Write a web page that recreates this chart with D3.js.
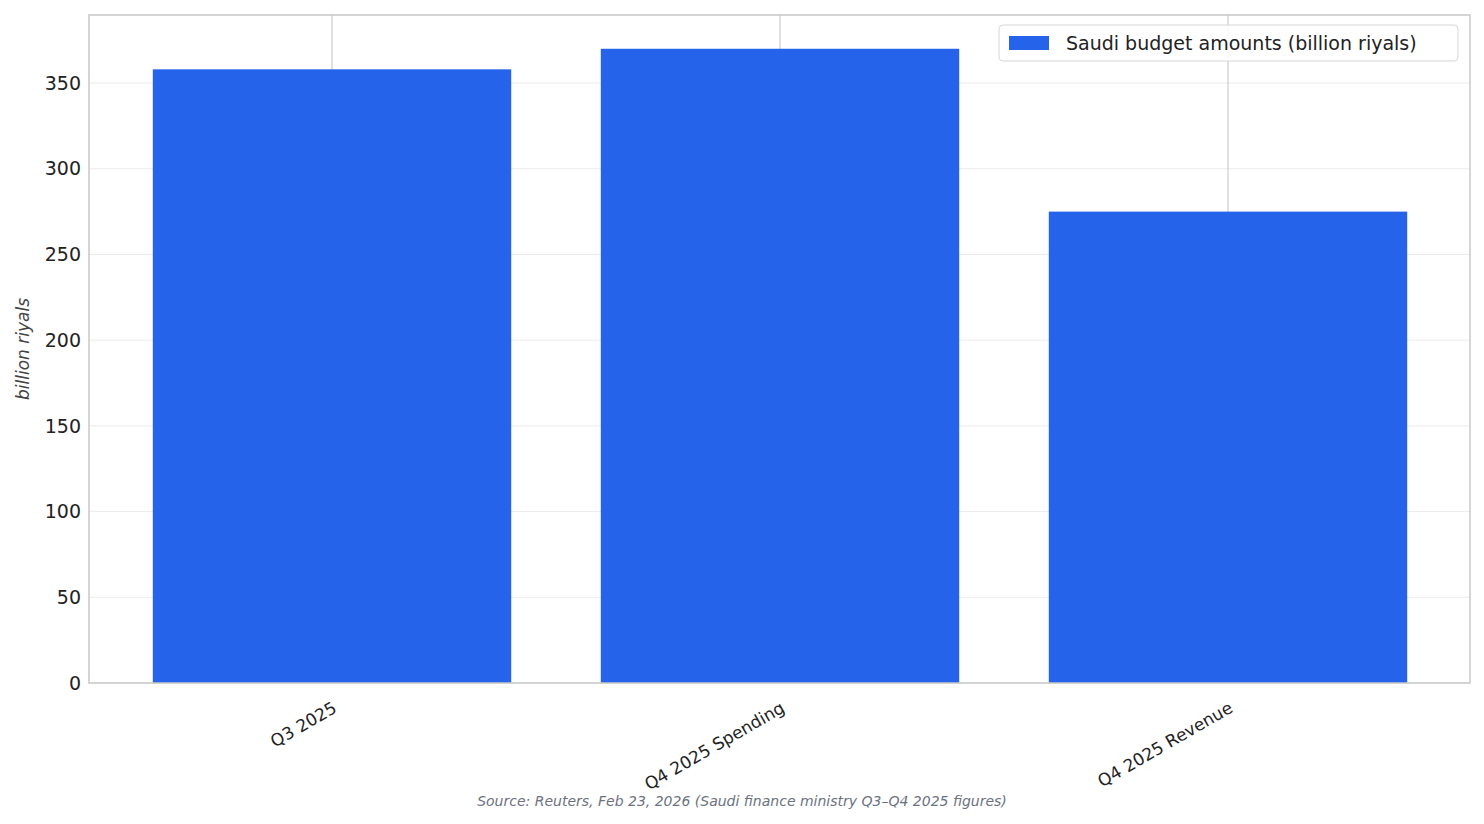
<!DOCTYPE html>
<html>
<head>
<meta charset="utf-8">
<script src="https://cdn.jsdelivr.net/npm/d3@7"></script>
<style>
  body { margin: 0; background: #fff; }
  text { font-family: "DejaVu Sans", sans-serif; }
</style>
</head>
<body>
<div id="chart"></div>
<script>
// data
let categories = ["Q3 2025", "Q4 2025 Spending", "Q4 2025 Revenue"];
let amounts = [358, 370, 275];
let yTicks = [0, 50, 100, 150, 200, 250, 300, 350];
let seriesName = "Saudi budget amounts (billion riyals)";
let yLabel = "billion riyals";
let source = "Source: Reuters, Feb 23, 2026 (Saudi finance ministry Q3\u2013Q4 2025 figures)";

let w = 1484, h = 824;
let pLeft = 89, pRight = 1470, pTop = 15, pBottom = 683;

let svg = d3.select("#chart").append("svg")
  .attr("width", w).attr("height", h);

let x = d3.scaleLinear().domain([-0.5424, 2.5402]).range([pLeft, pRight]);
let y = d3.scaleLinear().domain([0, 389.7]).range([pBottom, pTop]);
let bw = x(0.4) - x(-0.4);

// horizontal grid
svg.append("g").selectAll("line").data(yTicks).enter().append("line")
  .attr("x1", pLeft).attr("x2", pRight)
  .attr("y1", d => y(d)).attr("y2", d => y(d))
  .attr("stroke", "#ebebeb").attr("stroke-width", 1);

// vertical grid at categories
svg.append("g").selectAll("line").data(categories).enter().append("line")
  .attr("x1", (d, i) => x(i)).attr("x2", (d, i) => x(i))
  .attr("y1", pTop).attr("y2", pBottom)
  .attr("stroke", "#cccccc").attr("stroke-width", 1.2);

// bars
svg.append("g").selectAll("rect").data(amounts).enter().append("rect")
  .attr("x", (d, i) => x(i) - bw / 2)
  .attr("width", bw)
  .attr("y", d => y(d))
  .attr("height", d => y(0) - y(d))
  .attr("fill", "#2563eb");

// frame
svg.append("rect")
  .attr("x", pLeft).attr("y", pTop)
  .attr("width", pRight - pLeft).attr("height", pBottom - pTop)
  .attr("fill", "none").attr("stroke", "#c8c8c8").attr("stroke-width", 1.5);

// y tick labels
svg.append("g").selectAll("text").data(yTicks).enter().append("text")
  .attr("x", pLeft - 8).attr("y", d => y(d))
  .attr("dy", "0.35em").attr("text-anchor", "end")
  .attr("font-size", 19).attr("fill", "#222")
  .text(d => d);

// x tick labels
svg.append("g").selectAll("text").data(categories).enter().append("text")
  .attr("transform", (d, i) => `translate(${x(i)},${pBottom + 18}) rotate(-30)`)
  .attr("text-anchor", "end").attr("dy", "0.7em")
  .attr("font-size", 17).attr("fill", "#222")
  .text(d => d);

// y label
svg.append("text")
  .attr("transform", `translate(29,${(pTop + pBottom) / 2}) rotate(-90)`)
  .attr("text-anchor", "middle")
  .attr("font-size", 17).attr("font-style", "italic").attr("fill", "#444")
  .text(yLabel);

// legend
let lg = svg.append("g");
lg.append("rect")
  .attr("x", 999).attr("y", 25).attr("width", 459).attr("height", 36).attr("rx", 4)
  .attr("fill", "#fff").attr("fill-opacity", 0.85).attr("stroke", "#d6d6d6");
lg.append("rect")
  .attr("x", 1009).attr("y", 36).attr("width", 40).attr("height", 14)
  .attr("fill", "#2563eb");
lg.append("text")
  .attr("x", 1066).attr("y", 43).attr("dy", "0.35em")
  .attr("font-size", 19).attr("fill", "#222")
  .text(seriesName);

// source
svg.append("text")
  .attr("x", 742).attr("y", 806).attr("text-anchor", "middle")
  .attr("font-size", 14).attr("font-style", "italic").attr("fill", "#6b7280")
  .text(source);
</script>
</body>
</html>
